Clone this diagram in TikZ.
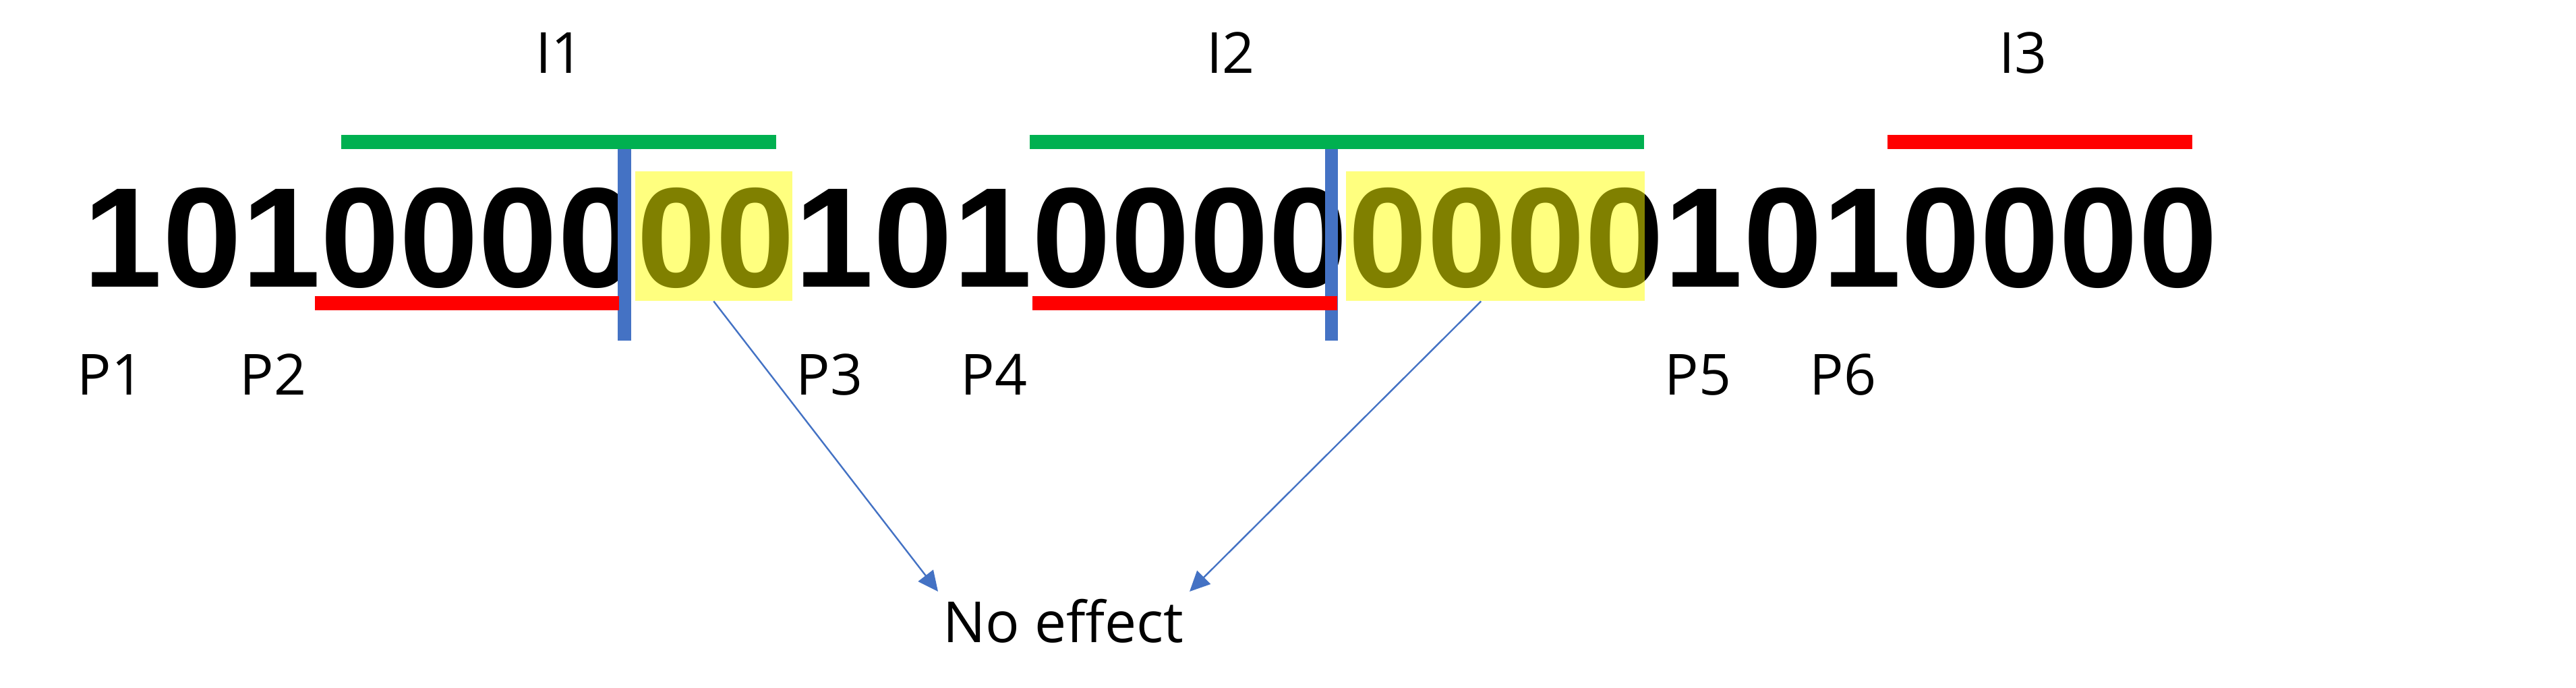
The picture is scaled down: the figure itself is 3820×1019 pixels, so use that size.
\documentclass[tikz,border=0pt]{standalone}
\usepackage{fontspec}
\setmainfont{Open Sans}
\newfontfamily\digitfam{Liberation Sans}
\usetikzlibrary{arrows.meta}
\definecolor{barGreen}{HTML}{00B050}
\definecolor{barRed}{HTML}{FF0000}
\definecolor{barBlue}{HTML}{4472C4}
\definecolor{hlYellow}{HTML}{FFFF00}
\begin{document}
\begin{tikzpicture}[x=0.25pt,y=-0.25pt,
  bitsrow/.style={font=\digitfam\bfseries\fontsize{52.7pt}{60pt}\selectfont, inner sep=0pt, anchor=base west},
  lbl/.style={font=\fontsize{21pt}{26pt}\selectfont, inner sep=0pt, anchor=base},
  hlbox/.style={fill=hlYellow, fill opacity=0.5, draw=none, inner sep=0pt, anchor=north west, minimum height=48pt},
  greenbar/.style={fill=barGreen, draw=none},
  redbar/.style={fill=barRed, draw=none},
  bluebar/.style={fill=barBlue, draw=none},
  noeff/.style={draw=barBlue, line width=0.6pt, -{Triangle[length=7.5pt,width=7pt]}}]
\useasboundingbox (0,0) rectangle (3820,1019);
\fill[white] (0,0) rectangle (3820,1019);
% bit string
\node[bitsrow] (bits) at (123,425) {101000000101000000001010000};
% yellow highlights
\node[hlbox, minimum width=58.25pt] (y1) at (941,253) {};
\node[hlbox, minimum width=110.75pt] (y2) at (1995,253) {};
% blue separators
\path[bluebar] (916,210) rectangle (936,505);
\path[bluebar] (1965,210) rectangle (1984,505);
% green / red bars on top
\path[greenbar] (506,200) rectangle (1151,221);
\path[greenbar] (1527,200) rectangle (2438,221);
\path[redbar] (2799,200) rectangle (3251,221);
\path[redbar] (467,439) rectangle (918,460);
\path[redbar] (1531,439) rectangle (1983,460);
% labels
\node[lbl] (i1) at (830,108) {I1};
\node[lbl] (i2) at (1825,108) {I2};
\node[lbl] (i3) at (3000,108) {I3};
\node[lbl] (p1) at (164,585) {P1};
\node[lbl] (p2) at (405,585) {P2};
\node[lbl] (p3) at (1230,585) {P3};
\node[lbl] (p4) at (1474,585) {P4};
\node[lbl] (p5) at (2518,585) {P5};
\node[lbl] (p6) at (2733,585) {P6};
\node[lbl] (ne) at (1577,952) {No effect};
% arrows
\coordinate (t1) at (1391,877);
\coordinate (t2) at (1764,877);
\draw[noeff] (y1.south) -- (t1);
\draw[noeff] ([xshift=-5.25pt]y2.south) -- (t2);
\end{tikzpicture}
\end{document}
